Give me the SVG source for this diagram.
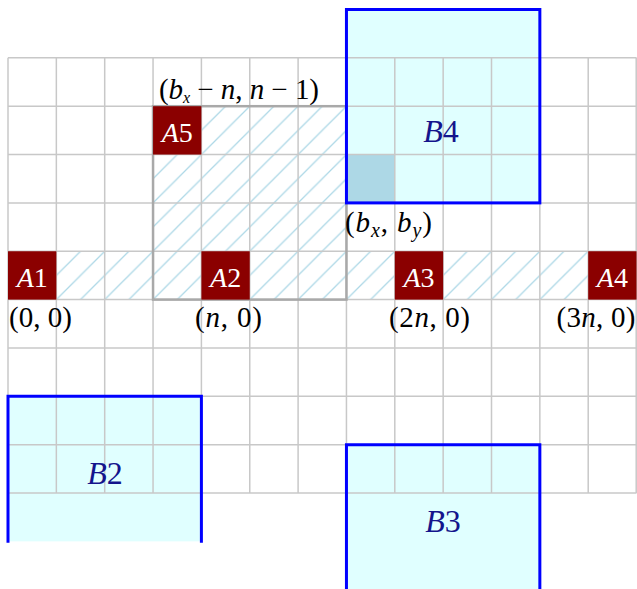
<svg xmlns="http://www.w3.org/2000/svg" width="637" height="589" viewBox="0 0 637 589">
<style>
.bfill{fill:#e0ffff;stroke:none}
.bord{fill:none;stroke:#0000ff;stroke-width:3;stroke-linecap:square}
.grid line{stroke:#c8c8c8;stroke-width:1.5}
.hatch{fill:url(#ne);stroke:none}
.abox{fill:#8b0000;stroke:none}
.alab{font-family:"Liberation Serif","DejaVu Serif",serif;font-size:28px;fill:#ffffff;text-anchor:middle}
.blab{font-family:"Liberation Serif","DejaVu Serif",serif;font-size:32px;fill:#14148c;text-anchor:middle}
.coord{font-family:"Liberation Serif","DejaVu Serif",serif;font-size:29px;fill:#000000}
.it{font-style:italic}
</style>
<defs>
<pattern id="ne" x="8" y="57.85" width="24.175" height="24.175" patternUnits="userSpaceOnUse">
<path d="M0,24.175 L24.175,0 M-3,3 L3,-3 M21.175,27.175 L27.175,21.175" stroke="#add8e6" stroke-width="1.3" fill="none"/>
</pattern>
</defs>

<g id="fills">
<rect class="bfill" x="346.45" y="9.5" width="193.4" height="193.4"/>
<rect class="bfill" x="8" y="396.3" width="193.4" height="145.05"/>
<rect class="bfill" x="346.45" y="444.65" width="193.4" height="160"/>
<rect x="346.45" y="154.55" width="48.35" height="48.35" fill="#add8e6"/>
<rect class="hatch" x="8" y="251.25" width="628.55" height="48.35"/>
<rect class="hatch" x="153.05" y="106.2" width="193.4" height="145.05"/>
</g>

<g id="grid" class="grid">
<line x1="8" y1="57.85" x2="8" y2="493"/>
<line x1="56.35" y1="57.85" x2="56.35" y2="493"/>
<line x1="104.7" y1="57.85" x2="104.7" y2="493"/>
<line x1="153.05" y1="57.85" x2="153.05" y2="493"/>
<line x1="201.4" y1="57.85" x2="201.4" y2="493"/>
<line x1="249.75" y1="57.85" x2="249.75" y2="493"/>
<line x1="298.1" y1="57.85" x2="298.1" y2="493"/>
<line x1="346.45" y1="57.85" x2="346.45" y2="493"/>
<line x1="394.8" y1="57.85" x2="394.8" y2="493"/>
<line x1="443.15" y1="57.85" x2="443.15" y2="493"/>
<line x1="491.5" y1="57.85" x2="491.5" y2="493"/>
<line x1="539.85" y1="57.85" x2="539.85" y2="493"/>
<line x1="588.2" y1="57.85" x2="588.2" y2="493"/>
<line x1="636.2" y1="57.85" x2="636.2" y2="493"/>
<line x1="8" y1="57.85" x2="636.55" y2="57.85"/>
<line x1="8" y1="106.2" x2="636.55" y2="106.2"/>
<line x1="8" y1="154.55" x2="636.55" y2="154.55"/>
<line x1="8" y1="202.9" x2="636.55" y2="202.9"/>
<line x1="8" y1="251.25" x2="636.55" y2="251.25"/>
<line x1="8" y1="299.6" x2="636.55" y2="299.6"/>
<line x1="8" y1="347.95" x2="636.55" y2="347.95"/>
<line x1="8" y1="396.3" x2="636.55" y2="396.3"/>
<line x1="8" y1="444.65" x2="636.55" y2="444.65"/>
<line x1="8" y1="493" x2="636.55" y2="493"/>
</g>

<g id="window">
<rect x="153.05" y="106.2" width="193.4" height="193.4" fill="none" stroke="#a9a9a9" stroke-width="2.5"/>
</g>

<g id="B4">
<rect class="bord" x="346.45" y="9.5" width="193.4" height="193.4"/>
<text class="blab" x="441" y="141.5"><tspan class="it">B</tspan>4</text>
</g>
<g id="B2">
<path class="bord" d="M8,541.35 V396.3 H201.4 V541.35" stroke-linecap="butt"/>
<text class="blab" x="105" y="484"><tspan class="it">B</tspan>2</text>
</g>
<g id="B3">
<path class="bord" d="M346.45,600 V444.65 H539.85 V600"/>
<text class="blab" x="443" y="531.5"><tspan class="it">B</tspan>3</text>
</g>

<g id="A1">
<rect class="abox" x="8" y="251.25" width="48.35" height="48.35"/>
<text class="alab" x="32.2" y="286.5"><tspan class="it">A</tspan>1</text>
</g>
<g id="A2">
<rect class="abox" x="201.4" y="251.25" width="48.35" height="48.35"/>
<text class="alab" x="225.6" y="286.5"><tspan class="it">A</tspan>2</text>
</g>
<g id="A3">
<rect class="abox" x="394.8" y="251.25" width="48.35" height="48.35"/>
<text class="alab" x="419" y="286.5"><tspan class="it">A</tspan>3</text>
</g>
<g id="A4">
<rect class="abox" x="588.2" y="251.25" width="48.35" height="48.35"/>
<text class="alab" x="612.4" y="286.5"><tspan class="it">A</tspan>4</text>
</g>
<g id="A5">
<rect class="abox" x="153.05" y="106.2" width="48.35" height="48.35"/>
<text class="alab" x="177.2" y="141.7"><tspan class="it">A</tspan>5</text>
</g>

<g id="labels">
<text class="coord" x="9" y="327" textLength="63" lengthAdjust="spacing">(0, 0)</text>
<text class="coord" x="195" y="327" textLength="67" lengthAdjust="spacing">(<tspan class="it">n</tspan>, 0)</text>
<text class="coord" x="389" y="327" textLength="81" lengthAdjust="spacing">(2<tspan class="it">n</tspan>, 0)</text>
<text class="coord" x="556.5" y="327" textLength="79" lengthAdjust="spacing">(3<tspan class="it">n</tspan>, 0)</text>
<text class="coord" x="345" y="232" textLength="87" lengthAdjust="spacing">(<tspan class="it">b</tspan><tspan class="it" font-size="20" dy="5">x</tspan><tspan dy="-5">, </tspan><tspan class="it">b</tspan><tspan class="it" font-size="20" dy="5">y</tspan><tspan dy="-5">)</tspan></text>
<text class="coord" x="159" y="98.5" font-size="23" textLength="160" lengthAdjust="spacing">(<tspan class="it">b</tspan><tspan class="it" font-size="16" dy="4">x</tspan><tspan dy="-4"> − </tspan><tspan class="it">n</tspan>, <tspan class="it">n</tspan> − 1)</text>
</g>
</svg>
